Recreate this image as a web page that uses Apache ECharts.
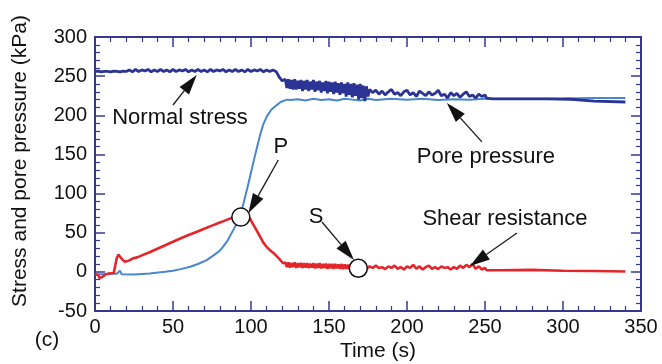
<!DOCTYPE html>
<html>
<head>
<meta charset="utf-8">
<script src="https://cdn.jsdelivr.net/npm/echarts@6/dist/echarts.min.js"></script>
<style>html,body{margin:0;padding:0;background:#fff;}#c{width:662px;height:364px;}</style>
</head>
<body>
<div id="c"></div>
<script>
// ---- data (time s, kPa) ----
var xTicks = [0, 50, 100, 150, 200, 250, 300, 350];
var yTicks = [-50, 0, 50, 100, 150, 200, 250, 300];

var normalStress = [
[0,256],[1,258],[2,256.5],[3,258.5],[4,255.5],[5,258],[6,256],[7,258.5],[8,256],[9,257.5],
[10,255.5],[11,258],[12,256.5],[13,258.5],[14,256],[15,258],[16,255.5],[17,258],[18,256.5],[19,258.5],
[20,256],[22,258],[24,255.5],[26,258.5],[28,256],[30,258],[32,256.5],[34,258.5],[36,255.5],[38,258],
[40,256],[42,258.5],[44,256],[46,258],[48,255.5],[50,258.5],[52,256],[54,258],[56,256.5],[58,258.5],
[60,255.5],[62,258],[64,256],[66,258.5],[68,256],[70,258],[72,255.5],[74,258.5],[76,256],[78,258],
[80,256.5],[82,258.5],[84,255.5],[86,258],[88,256],[90,258.5],[92,256],[94,258],[96,255.5],[98,258.5],
[100,256],[102,258],[104,256.5],[106,258.5],[108,255.5],[110,258],[112,256],[114,258],[116,256],
[117,253],[118,249],[119,247],[120,244],[121,243],
[122,246],[123,235],[124,246],[125,234],[126,245],[127,233],[128,246],[129,233],[130,244],[131,234],
[132,245],[133,231],[134,244],[135,233],[136,245],[137,231],[138,243],[139,233],[140,245],[141,230],
[142,243],[143,232],[144,244],[145,229],[146,242],[147,231],[148,244],[149,228],[150,243],[151,230],
[152,242],[153,227],[154,243],[155,229],[156,241],[157,226],[158,242],[159,228],[160,240],[161,224],
[162,242],[163,226],[164,240],[165,223],[166,241],[167,225],[168,239],[169,220],[170,240],[171,222],
[172,238],[173,218],[174,237],[175,224],[176,233],
[178,229],[180,232],[182,227],[184,231],[186,226],[188,230],[190,233],[192,227],[194,229],[196,225],
[198,230],[200,232],[202,226],[204,229],[206,224],[208,231],[210,228],[212,225],[214,230],[216,226],
[218,228],[220,232],[222,225],[224,227],[226,222],[228,229],[230,225],[232,228],[234,223],[236,227],
[238,230],[240,224],[242,226],[244,222],[246,227],[248,224],[250,226],[251,222],
[255,221],[270,221],[290,221],[305,220.5],[320,218],[340,217]
];

var porePressure = [
[0,-3],[5,-3],[10,-2.5],[14,-2.5],[15,-1],[16,1.5],[17,-3],[18,-4],[25,-3.5],[35,-2],[45,0],[50,1.5],
[55,3.5],[61,6.5],[66,10],[71.6,15],[76,21],[80,27],[82,32],[85,40],[88.5,53],[91,62],[93,70],[94,78],
[96,94],[98,110],[100,127],[102,144],[104,160],[106,176],[108,189],[110,198],[113,207],[116.5,213],[119,217],
[123,220],[125,219.5],[130,220.5],[135,219],[140,221],[145,219.5],[150,220.5],[155,219],[160,221],
[165,220],[170,219],[175,221],[180,219.5],[190,221],[200,220],[210,221],[220,219.5],[230,220.5],
[240,220],[250,221],[270,221],[300,221.5],[320,222],[340,222]
];

var shearResistance = [
[0,-3],[2,-4],[3,-8],[4,-9],[5,-6],[6,-7],[7,-3],[9,-2],[12,-1.5],[13,-1],[14,18],[15,22],[16,20],
[17,17],[19,13],[21,14],[22.4,15],[24,17],[27,18.5],[30,21],[35,25],[40,29.5],[45,34],[50,38.5],[55,43],
[60,47],[65,51],[70,55],[75,59],[80,63],[82,64.5],[86.5,68],[90,70.5],[93,72],[96,71],[99.4,68],[101,62],
[103.6,53],[105.8,45],[108,37],[110,32],[112,28],[115,23],[118,17],[120.5,11],
[122,12],[123,6],[124,12],[125,5.5],[126,11.5],[127,6],[128,12],[129,5],[130,11],[131,6],[132,11.5],
[133,5],[134,11],[135,5.5],[136,11],[137,5],[138,10.5],[139,5.5],[140,11],[141,4.5],[142,10.5],[143,5],
[144,11],[145,4.5],[146,10],[147,5],[148,10.5],[149,4],[150,10],[151,4.5],[152,10],[153,4],[154,10],
[155,4.5],[156,9.5],[157,4],[158,10],[159,3.5],[160,9.5],[161,4],[162,9],[163,3.5],[164,9.5],[165,3],
[166,9],[167,3.5],[168,8],[169,4],
[170,6],[172,8],[174,4],[176,7],[178,5],[180,8],[182,5],[184,6],[186,3.5],[188,7],[190,5],[192,8],
[194,4],[196,6],[198,3],[200,7],[202,5],[204,9],[206,4],[208,7],[210,3],[212,6],[214,8],[216,4],
[218,6],[220,3.5],[222,7],[224,5],[226,6],[228,3],[230,6],[232,4],[234,8],[236,5],[238,9],[240,6],
[242,10],[244,4],[246,7],[248,3],[250,5],[251,2],[260,2],[280,2.5],[300,1.5],[320,1],[340,0.5]
];

// annotation anchors (data coordinates)
var markerP = [93.5, 70];
var markerS = [168.8, 4.6];
var annotationTexts = [
  {text: 'Normal stress', at: [54.5, 196.6]},
  {text: 'P', at: [119.2, 159.5]},
  {text: 'S', at: [141.7, 70]},
  {text: 'Pore pressure', at: [250.6, 146.7]},
  {text: 'Shear resistance', at: [262.8, 67.6]}
];
var annotationArrows = [
  {from: [50, 213.2], to: [65.2, 251.5]},
  {from: [117.5, 142.9], to: [98.3, 74.8]},
  {from: [145.5, 63.7], to: [166, 15.2]},
  {from: [248, 166], to: [225.6, 215.7]},
  {from: [270.5, 49.7], to: [240.4, 7.5]}
];

var FONT = '"Liberation Sans", Arial, Helvetica, sans-serif';
var AXC = '#34398f';

var chart = echarts.init(document.getElementById('c'), null, {renderer: 'canvas'});

function axisCommon(extra) {
  var o = {
    type: 'value',
    axisLine: {show: true, onZero: false, lineStyle: {color: AXC, width: 2}},
    axisTick: {show: true, inside: true, length: 10, lineStyle: {color: AXC, width: 1.5}},
    minorTick: {show: true, splitNumber: 5, length: 5, lineStyle: {color: AXC, width: 1.2}},
    splitLine: {show: false},
    minorSplitLine: {show: false}
  };
  for (var k in extra) o[k] = extra[k];
  return o;
}

chart.setOption({
  animation: false,
  backgroundColor: '#fff',
  grid: {left: 95, right: 21, top: 37, bottom: 53, containLabel: false},
  xAxis: [
    axisCommon({position: 'bottom', min: xTicks[0], max: xTicks[xTicks.length - 1], interval: 50,
      axisLabel: {show: true, margin: 6, color: '#111', fontSize: 20, fontFamily: FONT}}),
    axisCommon({position: 'top', min: xTicks[0], max: xTicks[xTicks.length - 1], interval: 50,
      axisLabel: {show: false}})
  ],
  yAxis: [
    axisCommon({position: 'left', min: yTicks[0], max: yTicks[yTicks.length - 1], interval: 50,
      axisLabel: {show: true, margin: 8, color: '#111', fontSize: 20, fontFamily: FONT}}),
    axisCommon({position: 'right', min: yTicks[0], max: yTicks[yTicks.length - 1], interval: 50,
      axisLabel: {show: false}})
  ],
  series: [
    {name: 'Pore pressure', type: 'line', data: porePressure, showSymbol: false, symbol: 'none',
      lineStyle: {color: '#4a86d0', width: 2}, z: 2},
    {name: 'Normal stress', type: 'line', data: normalStress, showSymbol: false, symbol: 'none',
      lineStyle: {color: '#2b3494', width: 2.8}, z: 3},
    {name: 'Shear resistance', type: 'line', data: shearResistance, showSymbol: false, symbol: 'none',
      lineStyle: {color: '#e4262a', width: 2.6}, z: 3}
  ]
});

function px(p) { return chart.convertToPixel({gridIndex: 0}, p); }

var g = [];
annotationArrows.forEach(function (a) {
  var f = px(a.from), t = px(a.to);
  var dx = t[0] - f[0], dy = t[1] - f[1];
  var L = Math.sqrt(dx * dx + dy * dy);
  var ux = dx / L, uy = dy / L;
  var hl = 20, hw = 6;
  var bx = t[0] - ux * hl, by = t[1] - uy * hl;
  g.push({type: 'line', z: 20, shape: {x1: f[0], y1: f[1], x2: bx, y2: by},
    style: {stroke: '#222', lineWidth: 1.4}});
  g.push({type: 'polygon', z: 20, shape: {points: [[t[0], t[1]], [bx - uy * hw, by + ux * hw], [bx + uy * hw, by - ux * hw]]},
    style: {fill: '#111'}});
});
[markerP, markerS].forEach(function (m) {
  var c = px(m);
  g.push({type: 'circle', z: 25, shape: {cx: c[0], cy: c[1], r: 9},
    style: {fill: '#fff', stroke: '#111', lineWidth: 1.5}});
});
annotationTexts.forEach(function (a) {
  var c = px(a.at);
  g.push({type: 'text', z: 30, x: c[0], y: c[1],
    style: {text: a.text, fill: '#111', font: '22px ' + FONT, align: 'center', verticalAlign: 'middle'}});
});
g.push({type: 'text', z: 30, x: 378, y: 351,
  style: {text: 'Time (s)', fill: '#111', font: '21px ' + FONT, align: 'center', verticalAlign: 'middle'}});
g.push({type: 'text', z: 30, x: 47, y: 340,
  style: {text: '(c)', fill: '#111', font: '21px ' + FONT, align: 'center', verticalAlign: 'middle'}});
g.push({type: 'text', z: 30, x: 20, y: 161, rotation: Math.PI / 2,
  style: {text: 'Stress and pore pressure (kPa)', fill: '#111', font: '21px ' + FONT, align: 'center', verticalAlign: 'middle'}});

chart.setOption({graphic: g});
</script>
</body>
</html>
